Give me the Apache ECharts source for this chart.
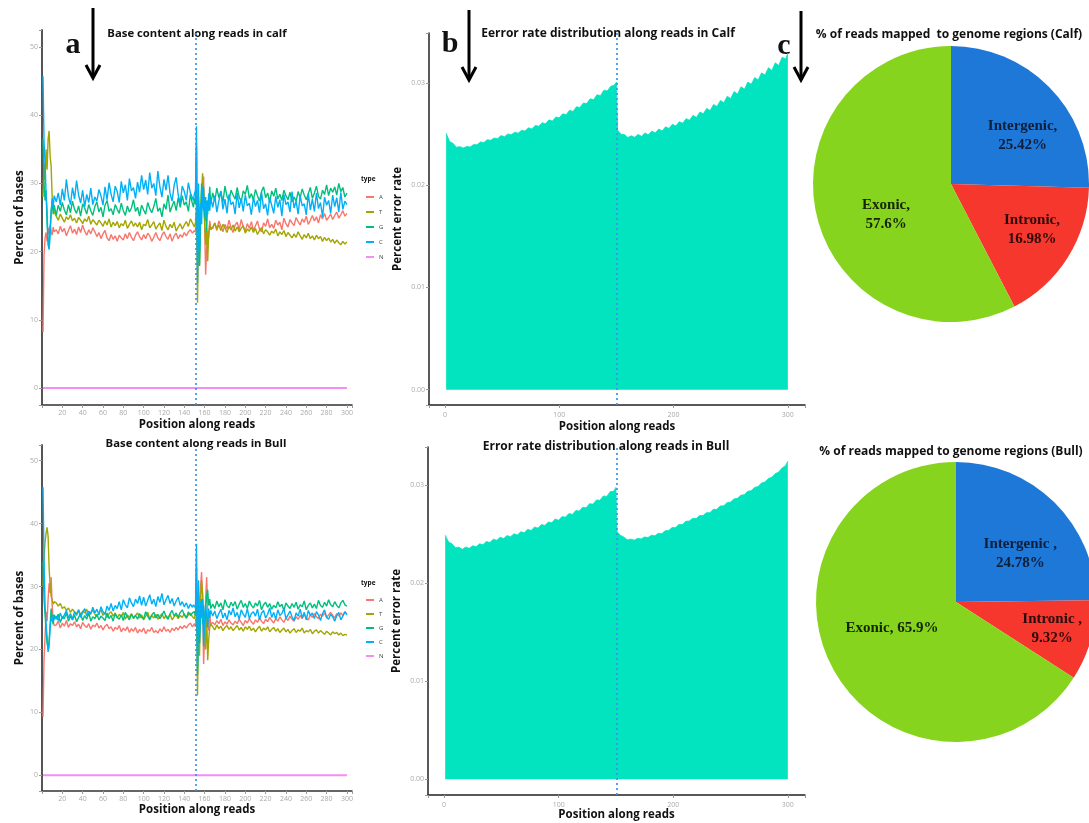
<!DOCTYPE html>
<html><head><meta charset="utf-8">
<script src="https://cdn.jsdelivr.net/npm/echarts@6/dist/echarts.min.js"></script>
<style>html,body{margin:0;padding:0;background:#fff}#c{width:1089px;height:823px}</style>
</head><body><div id="c"></div><script>
// ---------- DATA ----------
const baseTypes = ['A','T','G','C','N'];
const linePos = [1,2,3,4,5,6,7,8,9,10,11,12,
14,16,18,20,22,24,26,28,30,32,
34,36,38,40,42,44,46,48,50,52,
54,56,58,60,62,64,66,68,70,72,
74,76,78,80,82,84,86,88,90,92,
94,96,98,100,102,104,106,108,110,112,
114,116,118,120,122,124,126,128,130,132,
134,136,138,140,142,144,146,148,
149,150,151,152,153,154,155,156,157,158,159,160,161,162,163,164,165,166,
168,170,172,174,176,178,180,182,184,186,
188,190,192,194,196,198,200,202,204,206,
208,210,212,214,216,218,220,222,224,226,
228,230,232,234,236,238,240,242,244,246,
248,250,252,254,256,258,260,262,264,266,
268,270,272,274,276,278,280,282,284,286,
288,290,292,294,296,298,300];
const nPos = [1, 300];
const nValues = [0, 0];

const calfA = [8.2,19.5,22.0,22.8,21.5,23.5,22.6,23.8,23.0,22.4,23.6,22.9,
23.2,22.6,23.7,22.9,23.4,22.3,23.1,23.8,22.7,23.3,
22.5,23.6,22.8,23.9,23.0,22.4,23.2,22.6,23.5,22.9,
22.2,22.8,21.9,22.6,23.1,22.0,21.6,22.5,21.8,22.3,
21.5,22.4,22.0,21.7,22.6,21.9,22.8,22.1,21.6,22.4,
22.9,22.2,21.7,22.5,21.9,22.7,22.3,21.5,22.1,22.8,
22.0,21.6,22.4,22.9,22.2,21.8,22.6,21.5,22.3,22.7,
21.9,22.5,22.1,22.8,22.3,22.9,23.2,22.7,
22.6,23.1,22.8,25.5,20.0,27.5,22.0,24.5,27.0,29.5,31.0,24.0,16.6,20.5,23.0,22.0,24.5,23.5,
23.4,24.2,23.1,24.5,23.7,22.9,24.0,23.3,24.6,23.5,
22.8,23.9,24.3,23.2,24.7,23.6,23.0,24.1,23.4,24.4,
23.1,23.8,24.5,23.3,22.9,24.2,23.7,24.8,23.5,24.0,
23.4,24.6,23.9,24.3,23.2,24.9,24.1,23.6,24.7,24.2,
23.8,25.0,24.4,23.9,24.8,24.3,25.2,24.0,24.6,25.3,
24.5,25.1,24.2,25.4,24.8,25.6,24.6,25.0,25.5,24.7,
25.3,25.8,24.9,25.4,26.0,25.2,25.6];
const calfT = [28.0,33.0,30.5,35.0,32.0,36.5,37.7,34.0,32.5,28.0,26.5,25.8,
25.2,24.6,25.5,24.9,24.3,25.1,24.7,25.4,24.5,24.9,
24.2,25.0,24.6,24.1,24.8,24.4,25.2,24.0,24.7,24.3,
23.9,24.6,24.2,23.7,24.5,23.9,24.8,23.6,24.3,23.8,
24.4,23.5,24.1,23.8,24.6,23.4,24.0,24.5,23.7,24.2,
23.6,24.3,23.2,24.0,23.8,24.7,23.5,23.9,24.4,23.3,
23.8,24.2,23.1,24.6,23.7,23.2,24.0,23.5,24.3,23.0,
23.6,24.1,23.3,23.9,24.4,23.7,24.8,24.2,
24.0,23.6,24.3,27.0,12.5,22.0,18.0,26.0,29.0,31.5,27.0,24.5,21.0,23.5,18.6,22.5,24.0,23.2,
23.6,24.2,23.3,23.9,23.1,24.0,23.5,22.8,23.7,23.2,
23.9,23.0,23.6,22.9,23.4,23.8,22.7,23.3,23.0,23.6,
22.8,23.4,22.5,23.1,23.5,22.6,23.2,22.9,22.4,23.0,
22.7,23.3,22.3,22.9,22.5,23.1,22.2,22.8,22.4,22.0,
22.6,22.1,22.9,22.3,21.8,22.5,22.0,22.7,21.9,22.3,
21.7,22.4,21.9,22.2,21.5,22.1,21.6,22.0,21.4,21.8,
21.2,21.7,21.3,21.0,21.5,21.1,21.4];
const calfG = [36.5,30.0,27.5,29.0,24.0,21.5,20.5,23.5,26.0,27.5,25.5,26.8,
25.3,26.8,25.9,27.2,26.1,25.4,26.9,25.7,27.4,26.2,
25.6,26.7,25.2,27.0,26.4,25.5,26.9,26.0,25.3,26.6,
27.3,25.8,26.5,25.1,26.8,27.5,25.9,26.3,25.4,26.9,
26.2,25.6,27.1,26.0,25.3,26.7,25.8,26.4,27.6,25.9,
26.5,25.2,26.8,26.1,25.5,27.2,26.3,25.7,26.6,27.8,
25.9,26.4,25.1,27.0,26.2,28.3,25.8,26.7,27.4,26.0,
27.9,26.5,28.2,26.8,27.3,25.9,28.4,27.0,
26.5,27.8,27.0,35.5,18.0,28.0,17.9,24.0,30.0,26.5,29.5,25.0,28.0,23.0,27.5,26.0,29.5,27.0,
28.6,27.4,29.3,27.9,28.8,27.2,29.6,28.1,27.5,29.0,
28.3,27.7,29.4,28.0,27.3,28.9,28.4,29.7,27.8,28.5,
27.6,29.1,28.2,27.4,28.8,29.5,27.9,28.6,27.2,28.9,
28.1,29.3,27.7,28.4,27.5,29.0,28.2,27.6,28.7,27.3,
28.0,27.4,28.8,27.9,29.2,28.3,27.6,28.5,29.4,27.8,
28.6,29.6,28.1,27.7,29.0,28.4,29.8,28.2,29.3,28.7,
29.5,28.3,30.0,28.8,29.4,28.0,28.6];
const calfC = [45.7,36.0,33.0,28.5,26.0,21.0,20.3,22.5,25.5,27.8,26.5,28.2,
27.3,28.6,26.8,29.2,27.5,30.6,28.1,26.9,29.4,27.7,
30.4,28.3,27.1,29.0,26.6,28.4,27.2,29.3,26.9,28.0,
27.4,29.1,28.2,26.8,29.5,27.6,30.1,28.4,27.3,29.6,
28.8,27.2,30.3,28.6,29.8,27.5,30.7,28.9,29.4,27.8,
30.2,28.7,31.2,29.1,30.5,28.4,31.6,29.3,30.0,28.2,
31.8,29.5,28.0,30.6,29.0,31.2,28.5,27.4,29.7,30.9,
28.3,27.1,29.6,28.8,27.5,30.1,28.6,27.9,
27.5,28.5,29.0,38.4,15.4,30.0,20.0,27.0,24.0,29.5,26.0,28.0,24.5,27.5,25.5,28.5,26.0,27.8,
26.5,28.2,25.8,27.4,28.9,26.2,27.7,25.6,28.4,26.9,
27.3,25.5,28.6,26.4,27.8,25.9,28.3,26.7,27.1,25.4,
28.0,26.6,27.5,25.7,28.7,26.3,27.0,25.3,27.9,26.8,
25.6,28.1,26.5,27.6,25.2,28.4,26.9,27.3,25.8,28.8,
26.4,27.4,25.5,28.2,26.7,27.0,25.4,28.5,26.1,27.7,
25.9,28.6,26.3,27.2,25.1,28.0,26.8,27.5,25.6,28.3,
26.6,27.9,25.8,28.7,26.2,27.4,26.9];

const bullA = [9.3,18.5,22.0,26.0,24.5,28.0,30.5,29.0,31.5,27.0,24.5,23.8,
23.9,24.5,23.4,24.2,23.7,24.6,23.5,24.1,23.8,24.4,
23.6,24.0,23.3,24.3,23.8,23.5,24.1,23.2,23.9,23.6,
24.2,23.4,23.8,23.1,23.7,24.0,23.3,23.6,22.9,23.5,
23.2,23.8,22.8,23.4,23.0,23.6,22.7,23.3,22.9,23.5,
22.6,23.2,22.8,23.4,22.5,23.1,22.9,23.5,22.7,23.0,
22.6,23.3,22.8,23.6,22.9,23.2,22.7,23.4,23.0,23.5,
23.1,23.7,23.3,23.8,23.4,23.9,24.2,23.6,
23.8,24.1,23.6,26.0,21.0,28.5,23.5,30.0,32.3,27.5,17.7,22.0,28.0,31.5,26.5,23.0,25.5,24.0,
24.3,23.9,24.6,24.1,24.8,23.8,24.4,24.0,24.7,24.2,
23.9,24.5,24.1,24.8,24.3,23.8,24.6,24.2,24.9,24.4,
24.0,24.7,24.3,25.0,24.5,24.1,24.8,24.4,25.1,24.6,
24.2,24.9,24.5,25.2,24.7,24.3,25.0,24.6,25.3,24.8,
24.5,25.2,24.8,25.4,24.9,25.6,25.0,24.7,25.5,25.1,
25.7,25.2,24.9,25.6,25.3,25.8,25.1,25.5,25.9,25.4,
25.0,25.7,25.3,25.8,25.4,26.0,25.6];
const bullT = [30.0,34.5,37.0,38.5,39.4,38.0,33.0,30.0,28.5,27.8,27.2,27.6,
27.4,26.9,27.3,26.5,26.8,26.2,26.6,25.9,26.4,26.0,
25.7,26.3,25.5,26.1,25.8,26.4,25.3,25.9,26.2,25.6,
25.2,25.8,26.3,25.4,25.9,25.1,25.7,26.0,25.3,25.8,
25.0,25.6,25.2,25.9,24.8,25.5,25.1,25.7,24.9,25.4,
25.8,25.0,25.5,24.7,25.3,25.9,24.9,25.4,25.0,25.6,
24.8,25.3,25.7,24.9,25.4,25.0,25.6,24.7,25.2,25.5,
24.9,25.4,25.1,25.7,25.0,25.5,25.8,25.2,
25.3,24.9,25.0,27.0,12.7,23.0,19.0,27.5,31.0,29.0,25.0,22.5,20.0,26.0,18.3,21.5,23.5,24.0,
23.6,23.1,23.9,23.3,23.7,23.0,23.5,23.8,23.2,23.6,
23.0,23.4,23.8,23.1,23.5,22.9,23.6,23.2,23.7,23.0,
23.4,22.8,23.3,23.7,22.9,23.4,23.1,23.6,22.8,23.2,
23.5,22.9,23.3,22.7,23.1,23.4,22.8,23.2,22.6,23.0,
23.3,22.7,23.1,22.9,23.4,22.6,23.0,22.8,23.2,22.5,
22.9,23.1,22.6,23.0,22.7,22.4,22.9,22.6,22.3,22.8,
22.5,22.7,22.3,22.6,22.2,22.4,22.3];
const bullG = [34.0,28.0,25.5,23.0,21.0,20.0,21.5,24.0,26.5,25.0,24.0,25.5,
24.8,25.6,24.3,25.2,24.9,25.8,24.5,25.3,24.7,25.5,
24.4,25.1,25.7,24.6,25.4,24.8,25.9,24.5,25.2,24.9,
25.6,24.7,25.3,25.0,24.6,25.8,24.9,25.4,24.5,25.7,
25.1,24.8,25.5,24.6,25.9,25.2,24.7,25.6,25.0,25.4,
24.8,25.7,25.1,24.9,26.0,25.3,24.7,25.5,25.9,25.0,
25.6,24.9,25.4,26.1,25.2,24.8,25.7,26.2,25.3,25.8,
25.1,25.9,26.3,25.5,25.0,26.0,25.4,25.8,
25.6,26.0,25.4,33.0,16.0,29.0,21.0,25.5,28.0,24.0,27.0,22.5,26.5,28.5,29.5,27.0,28.0,26.5,
27.2,26.5,27.7,26.8,27.4,26.3,27.9,27.0,26.6,27.5,
26.9,27.6,26.4,27.2,27.8,26.7,27.3,26.5,27.7,27.0,
26.6,27.4,26.9,27.8,26.3,27.1,27.5,26.7,27.3,26.4,
27.0,26.6,27.6,26.8,27.2,26.2,27.4,26.9,26.5,27.3,
26.7,27.5,26.4,27.1,26.8,27.7,26.3,27.0,27.4,26.6,
27.2,26.5,27.8,27.0,26.7,27.5,26.9,27.9,27.1,26.8,
27.6,27.0,26.6,27.4,27.8,27.1,26.9];
const bullC = [45.8,34.0,27.0,24.0,22.0,19.6,20.5,23.5,25.0,24.5,25.5,24.8,
25.3,24.6,25.8,24.9,25.5,26.2,25.0,25.7,24.8,26.0,
25.4,26.3,25.1,25.9,26.5,25.3,26.1,25.6,26.7,25.8,
26.4,25.5,26.8,26.0,25.6,26.9,26.2,27.3,26.1,27.0,
26.5,27.6,26.3,27.9,27.1,26.6,28.2,27.4,26.8,28.0,
27.3,28.5,27.0,28.3,26.9,27.8,28.7,27.2,28.0,26.8,
28.4,27.5,28.9,27.1,27.9,28.6,27.3,28.1,26.9,27.7,
28.3,27.0,27.6,26.8,27.4,26.5,27.2,26.7,
27.1,27.0,26.6,36.8,17.2,31.0,22.5,27.5,25.0,28.0,20.5,24.5,27.0,25.5,23.5,26.5,25.0,26.2,
25.3,26.1,24.9,25.7,26.4,25.0,25.8,24.7,26.2,25.5,
26.6,25.2,25.9,24.8,26.3,25.6,25.1,26.5,24.9,25.7,
26.0,25.3,26.4,24.7,25.8,26.2,25.0,25.6,26.6,25.1,
25.9,24.8,26.3,25.4,25.7,26.5,24.9,25.5,26.1,25.2,
24.6,25.8,25.3,26.4,25.0,25.9,24.7,26.2,25.4,25.8,
24.9,26.0,25.5,24.6,25.7,26.3,25.1,24.8,25.6,25.2,
24.5,25.4,25.9,24.7,25.3,26.0,25.5];

const errPos = [1,4,7,10,13,16,19,22,25,28,
31,34,37,40,43,46,49,52,55,58,
61,64,67,70,73,76,79,82,85,88,
91,94,97,100,103,106,109,112,115,118,
121,124,127,130,133,136,139,142,145,148,
150,151,
154,157,160,163,166,169,172,175,178,181,
184,187,190,193,196,199,202,205,208,211,
214,217,220,223,226,229,232,235,238,241,
244,247,250,253,256,259,262,265,268,271,
274,277,280,283,286,289,292,295,298,
300];
const calfErr = [.02510,.02428,.02410,.02372,.02378,.02364,.02380,.02374,.02398,.02396,
.02424,.02418,.02446,.02440,.02462,.02456,.02486,.02474,.02502,.02494,
.02520,.02510,.02538,.02530,.02562,.02550,.02586,.02578,.02612,.02602,
.02640,.02628,.02668,.02660,.02700,.02690,.02734,.02722,.02768,.02760,
.02804,.02800,.02846,.02836,.02886,.02876,.02930,.02922,.02968,.02978,
.03010,.02540,
.02500,.02496,.02468,.02484,.02470,.02498,.02480,.02512,.02494,.02530,
.02512,.02550,.02532,.02572,.02556,.02596,.02580,.02622,.02608,.02652,
.02636,.02684,.02664,.02716,.02700,.02752,.02732,.02790,.02770,.02830,
.02808,.02872,.02848,.02918,.02892,.02964,.02940,.03010,.02988,.03054,
.03030,.03100,.03078,.03150,.03124,.03198,.03172,.03252,.03236,
.03292];
const bullErr = [.02490,.02420,.02402,.02362,.02368,.02346,.02370,.02356,.02382,.02372,
.02402,.02394,.02426,.02416,.02450,.02438,.02470,.02456,.02486,.02474,
.02504,.02492,.02526,.02514,.02550,.02538,.02574,.02562,.02600,.02590,
.02624,.02616,.02656,.02642,.02680,.02674,.02712,.02702,.02742,.02736,
.02776,.02770,.02812,.02806,.02850,.02846,.02890,.02886,.02934,.02938,
.02978,.02524,
.02490,.02470,.02444,.02450,.02440,.02458,.02452,.02472,.02466,.02490,
.02484,.02510,.02506,.02536,.02538,.02568,.02568,.02600,.02600,.02632,
.02634,.02662,.02660,.02690,.02690,.02720,.02720,.02754,.02754,.02788,
.02790,.02822,.02828,.02860,.02866,.02898,.02904,.02938,.02944,.02978,
.02986,.03022,.03032,.03068,.03082,.03118,.03134,.03176,.03200,
.03244];

const regions = ['Intergenic','Intronic','Exonic'];
const calfPct = [25.42, 16.98, 57.6];
const bullPct = [24.78, 9.32, 65.9];
const calfSep = [',\n', ',\n', ',\n'];
const bullSep = [' ,\n', ' ,\n', ', '];

// ---------- STYLE ----------
const SANS = '"Open Sans", "DejaVu Sans", sans-serif';
const SERIF = '"Liberation Serif", "DejaVu Serif", serif';
const baseColor = {A:'#F8766D', T:'#A3A500', G:'#00BF7D', C:'#00B0F6', N:'#F58DF5'};
const regionColor = ['#1e78d7', '#f5372d', '#87d41e'];
const regionText = ['#0f1e3a', '#2b0b0b', '#142406'];
const errColor = '#02e3bf';
const vlineColor = '#3d93e8';

function zip(p, v) { return v.map((y, i) => [p[i], y]); }
const nameStyle = {fontFamily: SANS, fontWeight: 'bold', fontSize: 11.5, color: '#111'};
const tickLbl = {fontSize: 7, color: '#aaa', fontFamily: SANS};

function lineX(gi, gap) {
  return {type:'value', gridIndex:gi, min:0, max:305, interval:20,
    name:'Position along reads', nameLocation:'middle', nameGap:gap, nameTextStyle:nameStyle,
    axisLine:{show:true, onZero:false, lineStyle:{color:'#333', width:1.5}},
    axisTick:{show:true, length:3, lineStyle:{color:'#999'}},
    axisLabel:Object.assign({margin:4, formatter: v => (v > 0 && v % 20 === 0) ? String(v) : ''}, tickLbl),
    splitLine:{show:false}};
}
function lineY(gi) {
  return {type:'value', gridIndex:gi, min:-2.5, max:52.5, splitNumber:5,
    name:'Percent of bases', nameLocation:'middle', nameGap:15, nameRotate:90, nameTextStyle:nameStyle,
    axisLine:{show:true, onZero:false, lineStyle:{color:'#555', width:2}},
    axisTick:{show:true, length:3, lineStyle:{color:'#999'}},
    axisLabel:Object.assign({margin:4, formatter: v => (Math.abs(v % 10) < 1e-9) ? String(v) : ''}, tickLbl),
    splitLine:{show:false}};
}
function errX(gi, gap) {
  return {type:'value', gridIndex:gi, min:-14, max:315, splitNumber:3,
    name:'Position along reads', nameLocation:'middle', nameGap:gap, nameTextStyle:nameStyle,
    axisLine:{show:true, onZero:false, lineStyle:{color:'#222', width:1.5}},
    axisTick:{show:true, length:3, lineStyle:{color:'#999'}},
    axisLabel:Object.assign({margin:6, formatter: v => (Math.abs(v % 100) < 1e-9) ? String(v) : ''}, tickLbl),
    splitLine:{show:false}};
}
function errY(gi, mn, mx) {
  return {type:'value', gridIndex:gi, min:mn, max:mx, splitNumber:4,
    name:'Percent error rate', nameLocation:'middle', nameGap:25, nameRotate:90, nameTextStyle:nameStyle,
    axisLine:{show:true, onZero:false, lineStyle:{color:'#222', width:1.5}},
    axisTick:{show:true, length:3, lineStyle:{color:'#999'}},
    axisLabel:Object.assign({margin:4, formatter: v => { const k = Math.round(v * 100); return Math.abs(v * 100 - k) < 1e-6 ? (k / 100).toFixed(2) : ''; }}, tickLbl),
    splitLine:{show:false}};
}
const vline = (x) => ({silent:true, symbol:['none','none'], label:{show:false},
  lineStyle:{type:[2,3], color:vlineColor, width:1.7}, data:[{xAxis:x}]});

function baseSeries(gi, vals) {
  const out = [];
  ['A','T','G','C'].forEach((t, i) => {
    out.push({type:'line', name:t, xAxisIndex:gi, yAxisIndex:gi, data:zip(linePos, vals[i]),
      symbol:'none', showSymbol:false, lineStyle:{width:1.4, color:baseColor[t]}, itemStyle:{color:baseColor[t]}});
  });
  out.push({type:'line', name:'N', xAxisIndex:gi, yAxisIndex:gi, data:zip(nPos, nValues),
    symbol:'none', showSymbol:false, lineStyle:{width:2, color:baseColor.N}, itemStyle:{color:baseColor.N},
    markLine:vline(151.5)});
  return out;
}
function errSeries(gi, vals) {
  return {type:'line', name:'err' + gi, xAxisIndex:gi, yAxisIndex:gi, data:zip(errPos, vals),
    symbol:'none', showSymbol:false, lineStyle:{width:0.8, color:errColor},
    areaStyle:{color:errColor, opacity:1}, markLine:vline(150.7)};
}
// label shifts: horizontal via padding, vertical via offset
const labelShift = {
  calf: {pad:[[0,0,0,40],[0,0,0,40],[0,0,0,10]], off:[[0,2],[0,7],[0,14]]},
  bull: {pad:[[0,0,0,26],[0,0,0,52],[0,0,0,0]], off:[[0,4],[0,7],[0,-9]]}
};
function pieSeries(center, r, pct, sep, sh) {
  return {type:'pie', center:center, radius:r, startAngle:90, clockwise:true, silent:true,
    emphasis:{disabled:true}, labelLine:{show:false},
    label:{show:true, position:'inside', fontFamily:SERIF, fontWeight:'bold', fontSize:15, lineHeight:19,
      formatter: p => p.name + sep[p.dataIndex] + p.value + '%'},
    data: regions.map((n, i) => ({name:n, value:pct[i], itemStyle:{color:regionColor[i]},
      label:{color:regionText[i], padding:sh.pad[i], offset:sh.off[i]}}))};
}
function arrow(x, y1, y2) {
  return [
    {type:'line', shape:{x1:x, y1:y1, x2:x, y2:y2}, style:{stroke:'#000', lineWidth:3}},
    {type:'polyline', shape:{points:[[x-7, y2-13],[x, y2],[x+7, y2-13]]}, style:{stroke:'#000', lineWidth:3, fill:null}}
  ];
}
function txt(s, x, y, font, align) {
  return {type:'text', x:x, y:y, style:{text:s, font:font, fill:'#111',
    textAlign:align || 'center', align:align || 'center', textVerticalAlign:'middle', verticalAlign:'middle'}};
}
const letterFont = 'bold 30px ' + SERIF;

const option = {
  animation:false,
  backgroundColor:'#fff',
  grid:[
    {left:42, top:30, width:310, height:375},
    {left:42, top:445, width:310, height:346},
    {left:429, top:33, width:376, height:372},
    {left:428, top:447, width:377, height:348}
  ],
  xAxis:[lineX(0, 14), lineX(1, 13), errX(2, 16), errX(3, 14)],
  yAxis:[lineY(0), lineY(1), errY(2, -0.0015, 0.0349), errY(3, -0.0016, 0.0339)],
  legend:[
    {data:baseTypes, orient:'vertical', left:361, top:188, itemWidth:8, itemHeight:2, itemGap:7, icon:'rect',
      selectedMode:false, textStyle:{fontSize:6, color:'#444', fontFamily:SANS, lineHeight:8}},
    {data:baseTypes, orient:'vertical', left:361, top:591, itemWidth:8, itemHeight:2, itemGap:6, icon:'rect',
      selectedMode:false, textStyle:{fontSize:6, color:'#444', fontFamily:SANS, lineHeight:8}}
  ],
  series:[].concat(
    baseSeries(0, [calfA, calfT, calfG, calfC]),
    baseSeries(1, [bullA, bullT, bullG, bullC]),
    [errSeries(2, calfErr), errSeries(3, bullErr),
     pieSeries([951, 184], 138, calfPct, calfSep, labelShift.calf),
     pieSeries([956, 602], 140, bullPct, bullSep, labelShift.bull)]
  ),
  graphic:{elements:[].concat(
    arrow(93, 8, 78), arrow(469, 10, 80), arrow(801, 11, 80),
    [
      txt('Base content along reads in calf', 197, 34, 'bold 11.3px ' + SANS),
      txt('Base content along reads in Bull', 196, 444, 'bold 11.3px ' + SANS),
      txt('Eerror rate distribution along reads in Calf', 608, 34, 'bold 12px ' + SANS),
      txt('Error rate distribution along reads in Bull', 606, 447, 'bold 12px ' + SANS),
      txt('% of reads mapped  to genome regions (Calf)', 949, 35, 'bold 12px ' + SANS),
      txt('% of reads mapped to genome regions (Bull)', 951, 452, 'bold 12px ' + SANS),
      txt('a', 73, 45, letterFont),
      txt('b', 450, 44, letterFont),
      txt('c', 784, 46, letterFont),
      txt('type', 361, 179, 'bold 6.5px ' + SANS, 'left'),
      txt('type', 361, 583, 'bold 6.5px ' + SANS, 'left')
    ]
  )}
};
const chart = echarts.init(document.getElementById('c'));
chart.setOption(option);
</script></body></html>
